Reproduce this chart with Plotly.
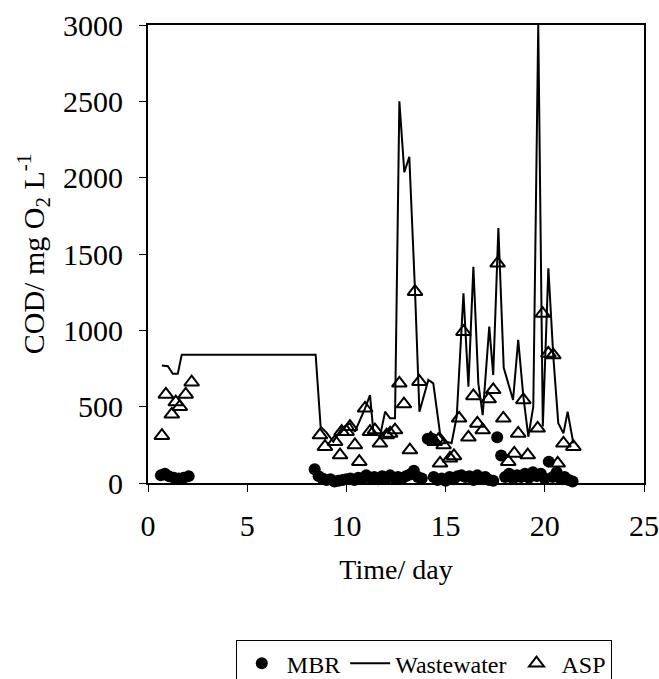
import plotly.graph_objects as go

# ---- data ----
mbr_day = [0.65, 0.85, 1.05, 1.3, 1.55, 1.8, 2.05,
           8.4, 8.6, 8.8, 9.0, 9.2, 9.4, 9.6, 9.8, 10.0, 10.2, 10.4, 10.6, 10.8,
           11.0, 11.2, 11.4, 11.6, 11.8, 12.0, 12.2, 12.4, 12.6, 12.8, 13.0, 13.2,
           13.4, 13.6, 13.8, 14.1, 14.3, 14.4, 14.6, 14.8, 15.0, 15.2, 15.4, 15.6,
           15.8, 16.0, 16.2, 16.4, 16.6, 16.8, 17.0, 17.2, 17.4, 17.6, 17.8, 18.0,
           18.2, 18.4, 18.6, 18.8, 19.0, 19.2, 19.4, 19.6, 19.8, 20.0, 20.2, 20.4,
           20.6, 20.8, 21.0, 21.2, 21.4]
mbr_cod = [50, 60, 45, 35, 30, 35, 45,
           90, 45, 30, 20, 25, 10, 15, 20, 25, 30, 20, 35, 30,
           50, 35, 40, 25, 45, 30, 50, 35, 40, 30, 45, 55,
           80, 40, 30, 290, 290, 40, 20, 30, 15, 40, 25, 45,
           50, 40, 45, 20, 50, 30, 40, 20, 15, 300, 180, 40,
           60, 30, 50, 40, 60, 35, 70, 45, 60, 30, 140, 40,
           70, 30, 40, 20, 10]

ww_day = [0.7, 1.0, 1.25, 1.5, 1.7, 8.45, 8.7, 9.0, 9.34, 9.76, 10.18, 10.43,
          10.94, 11.19, 11.36, 11.69, 11.95, 12.2, 12.45, 12.67, 12.92, 13.17,
          13.46, 13.68, 14.13, 14.38, 14.72, 15.05, 15.3, 15.56, 15.9, 16.15,
          16.4, 16.65, 16.87, 17.2, 17.4, 17.66, 17.93, 18.4, 18.66, 18.92,
          19.17, 19.42, 19.67, 19.9, 20.18, 20.43, 20.68, 20.94, 21.15, 21.44]
ww_cod = [770, 765, 715, 715, 840, 840, 369, 330, 271, 358, 391, 336,
          489, 576, 336, 303, 467, 424, 424, 2500, 2035, 2137,
          1253, 467, 675, 653, 325, 271, 260, 434, 1242, 631,
          1417, 653, 445, 1024, 707, 1670, 755, 544, 937, 565,
          303, 500, 3000, 370, 1406, 827, 391, 325, 467, 260]

asp_day = [0.7, 0.9, 1.2, 1.4, 1.6, 1.9, 2.2,
           8.67, 8.92, 9.43, 9.68, 9.76, 10.01, 10.18, 10.43, 10.65, 10.94, 11.19,
           11.44, 11.69, 12.03, 12.2, 12.45, 12.67, 12.9, 13.2, 13.46, 13.68, 14.25,
           14.45, 14.63, 14.72, 14.9, 15.22, 15.42, 15.68, 15.9, 16.15, 16.4, 16.6,
           16.87, 17.17, 17.4, 17.62, 17.91, 18.16, 18.46, 18.66, 18.92, 19.14,
           19.64, 19.89, 20.18, 20.43, 20.65, 20.94, 21.44]
asp_cod = [310, 580, 450, 530, 500, 580, 660,
           314, 238, 271, 183, 336, 336, 369, 249, 140, 489, 336,
           347, 260, 314, 325, 347, 653, 517, 216, 1253, 664, 293,
           270, 282, 129, 249, 162, 177, 424, 991, 299, 570, 390,
           347, 550, 610, 1439, 424, 140, 194, 325, 544, 183,
           358, 1110, 849, 838, 129, 260, 238]

x_ticks = [0, 5, 10, 15, 20, 25]
y_ticks = [0, 500, 1000, 1500, 2000, 2500, 3000]

FONT = "Liberation Serif, Times New Roman, serif"

fig = go.Figure()
fig.add_trace(go.Scatter(x=mbr_day, y=mbr_cod, mode="markers", name="MBR",
                         marker=dict(symbol="circle", size=12, color="black"),
                         cliponaxis=False))
fig.add_trace(go.Scatter(x=ww_day, y=ww_cod, mode="lines", name="Wastewater",
                         line=dict(color="black", width=2), cliponaxis=False))
fig.add_trace(go.Scatter(x=asp_day, y=asp_cod, mode="markers", name="ASP",
                         marker=dict(symbol="triangle-up-open", size=13, color="black",
                                     line=dict(color="black", width=2)),
                         cliponaxis=False))

axis_common = dict(showline=True, linecolor="black", linewidth=2, mirror=True,
                   ticks="outside", ticklen=7, tickwidth=1, tickcolor="black",
                   showgrid=False, zeroline=False, automargin=False,
                   tickfont=dict(family=FONT, size=30, color="black"))

fig.update_xaxes(range=[0, 25], tickvals=x_ticks, ticktext=[str(v) for v in x_ticks],
                 ticklabelstandoff=8,
                 title=dict(text="Time/ day", font=dict(family=FONT, size=28, color="black"),
                            standoff=18),
                 **axis_common)
fig.update_yaxes(range=[0, 3000], tickvals=y_ticks, ticktext=[str(v) for v in y_ticks],
                 ticklabelstandoff=10,
                 title=dict(text="COD/ mg O<sub>2</sub> L<sup>-1</sup>",
                            font=dict(family=FONT, size=30, color="black"), standoff=10),
                 **axis_common)

fig.update_layout(
    width=659, height=679,
    margin=dict(l=148, r=15, t=25, b=196, autoexpand=False),
    paper_bgcolor="white", plot_bgcolor="white",
    font=dict(family=FONT, size=24, color="black"),
    showlegend=True,
    legend=dict(orientation="h", x=0.177, xanchor="left", y=-0.343, yanchor="top",
                bordercolor="black", borderwidth=1, bgcolor="white",
                font=dict(family=FONT, size=24, color="black"),
                itemwidth=40, tracegroupgap=0),
)

fig.write_html("out.html")
